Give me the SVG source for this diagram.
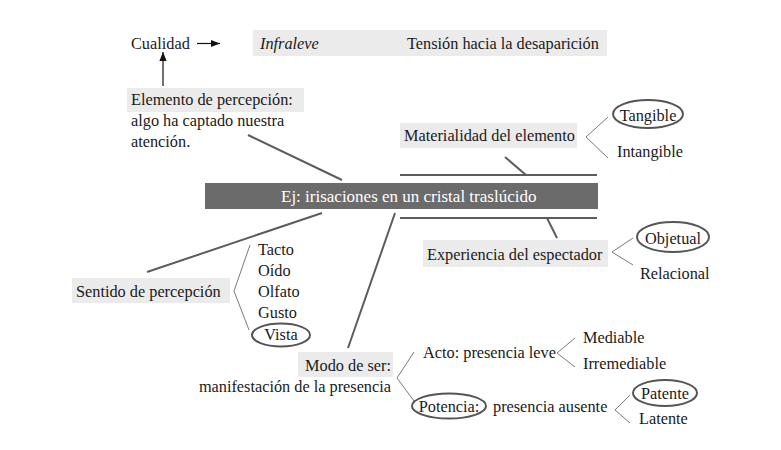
<svg xmlns="http://www.w3.org/2000/svg" width="781" height="450" viewBox="0 0 781 450">
<defs>
<style>
text{font-family:"Liberation Serif","DejaVu Serif",serif;font-size:16.3px;fill:#1a1a1a}
.it{font-style:italic}
.c{text-anchor:middle}
.bg{fill:#ebebeb}
.main{stroke:#5c5c5c;stroke-width:2;fill:none}
.br{stroke:#7a7a7a;stroke-width:1;fill:none}
.ov{stroke:#555;stroke-width:2;fill:none}
.ar{stroke:#111;stroke-width:1.2;fill:none}
</style>
<marker id="ah" viewBox="0 0 10 10" refX="10" refY="5" markerWidth="9" markerHeight="9" markerUnits="userSpaceOnUse" orient="auto"><path d="M0,1 L10,5 L0,9 Z" fill="#111"/></marker>
</defs>
<rect width="781" height="450" fill="#fff"/>

<g id="connectors">
<line class="ar" x1="197" y1="43.5" x2="220" y2="43.5" marker-end="url(#ah)"/>
<line class="ar" x1="350" y1="43.5" x2="377" y2="43.5" marker-end="url(#ah)"/>
<line class="ar" x1="163" y1="86" x2="163" y2="52" marker-end="url(#ah)"/>
<line class="main" x1="248" y1="135" x2="342" y2="180"/>
<line class="main" x1="400" y1="175" x2="597" y2="175"/>
<line class="main" x1="505" y1="157" x2="526" y2="175"/>
<line class="main" x1="400" y1="218" x2="597" y2="218"/>
<line class="main" x1="547" y1="218" x2="557" y2="238"/>
<line class="main" x1="322" y1="213" x2="147" y2="272"/>
<line class="main" x1="395" y1="213" x2="348" y2="348"/>
<polyline class="br" points="608,117 586,137 608,158"/>
<polyline class="br" points="633,238 612,252 633,265"/>
<polyline class="br" points="250,245 234,291 249,330"/>
<polyline class="br" points="414,352 397,378 414,401"/>
<polyline class="br" points="575,338 557,353 575,367"/>
<polyline class="br" points="630,395 615,410 630,423"/>
</g>

<g id="cualidad"><text x="131" y="49">Cualidad</text></g>
<g id="infraleve">
<rect class="bg" x="253" y="30" width="354" height="26"/>
<text class="it" x="260" y="49">Infraleve</text>
<text x="407" y="49">Tensión hacia la desaparición</text>
</g>
<g id="elemento">
<rect class="bg" x="127" y="88" width="177" height="24"/>
<text x="131" y="105">Elemento de percepción:</text>
<text x="131" y="126">algo ha captado nuestra</text>
<text x="131" y="147">atención.</text>
</g>
<g id="central">
<rect x="205" y="183" width="393" height="26" fill="#6b6b6b"/>
<text x="281" y="202" style="font-size:17px;fill:#fff">Ej: irisaciones en un cristal traslúcido</text>
</g>
<g id="materialidad">
<rect class="bg" x="400" y="123" width="177" height="25"/>
<text x="404" y="141">Materialidad del elemento</text>
</g>
<g id="tangible">
<ellipse class="ov" cx="648" cy="114" rx="35" ry="14"/>
<text class="c" x="648" y="121">Tangible</text>
</g>
<g id="intangible"><text x="617" y="157">Intangible</text></g>
<g id="experiencia">
<rect class="bg" x="423" y="240" width="185" height="27"/>
<text x="427" y="260">Experiencia del espectador</text>
</g>
<g id="objetual">
<ellipse class="ov" cx="673" cy="237" rx="36" ry="15"/>
<text class="c" x="673" y="244">Objetual</text>
</g>
<g id="relacional"><text x="640" y="279">Relacional</text></g>
<g id="sentido">
<rect class="bg" x="72" y="278" width="158" height="25"/>
<text x="76" y="297">Sentido de percepción</text>
</g>
<g id="tacto"><text x="258" y="255">Tacto</text></g>
<g id="oido"><text x="258" y="276">Oído</text></g>
<g id="olfato"><text x="258" y="297">Olfato</text></g>
<g id="gusto"><text x="258" y="318">Gusto</text></g>
<g id="vista">
<ellipse class="ov" cx="281" cy="335" rx="29" ry="11.5"/>
<text class="c" x="281" y="340">Vista</text>
</g>
<g id="modo">
<rect class="bg" x="298" y="352" width="95" height="25"/>
<text x="391" y="371" text-anchor="end">Modo de ser:</text>
<text x="391" y="392" text-anchor="end">manifestación de la presencia</text>
</g>
<g id="acto"><text x="423" y="358">Acto: presencia leve</text></g>
<g id="mediable"><text x="583" y="343">Mediable</text></g>
<g id="irremediable"><text x="583" y="369">Irremediable</text></g>
<g id="potencia">
<ellipse class="ov" cx="449" cy="406" rx="37" ry="12.5"/>
<text class="c" x="449" y="412">Potencia:</text>
<text x="493" y="412">presencia ausente</text>
</g>
<g id="patente">
<ellipse class="ov" cx="665" cy="393" rx="32" ry="13"/>
<text class="c" x="665" y="399">Patente</text>
</g>
<g id="latente"><text x="639" y="424">Latente</text></g>
</svg>
